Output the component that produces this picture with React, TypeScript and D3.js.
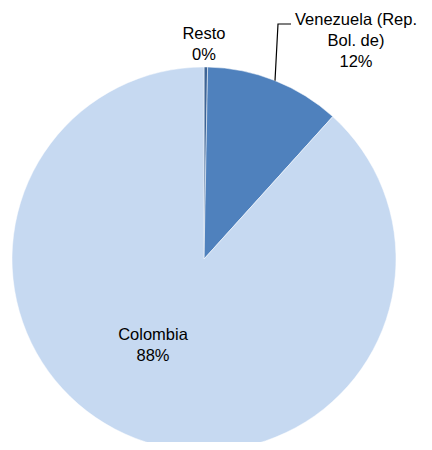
import React from "react";
import * as d3 from "d3";

const categories = ["Resto", "Venezuela (Rep. Bol. de)", "Colombia"];
const values = [0.3, 11.4, 88.3];
const percentLabels = ["0%", "12%", "88%"];
const colors = ["#3D6496", "#4F81BD", "#C6D9F1"];

const W = 432;
const H = 450;
const cx = 204;
const cy = 259;
const R = 192;
const FONT = "Arial, 'Liberation Sans', Helvetica, sans-serif";
const FS = 16.5;

export default function App() {
  const pie = d3
    .pie<number>()
    .sort(null)
    .value((d) => d)
    .startAngle(0)
    .endAngle(2 * Math.PI);
  const arcs = pie(values);
  const arc = d3.arc<d3.PieArcDatum<number>>().innerRadius(0).outerRadius(R);

  // label positions (pixels)
  const labelLines = [
    { x: 204, y: 39, lines: [categories[0], percentLabels[0]] },
    { x: 356, y: 25, lines: ["Venezuela (Rep.", "Bol. de)", percentLabels[1]] },
    { x: 153, y: 340, lines: [categories[2], percentLabels[2]] },
  ];

  // leader line for Venezuela from pie edge
  const lx = 275;
  const ly = cy - Math.sqrt(R * R - (lx - cx) * (lx - cx));
  const leader = d3.line()([
    [lx, ly],
    [278, 24],
    [291, 24],
  ]);

  return (
    <div style={{ margin: -8 }}>
      <svg width={W} height={H} style={{ display: "block", background: "#fff" }}>
        <g transform={`translate(${cx},${cy})`}>
          {arcs.map((a, i) => (
            <path key={i} d={arc(a) || ""} fill={colors[i]} stroke="#ffffff" strokeWidth={0.5} />
          ))}
        </g>
        <path d={leader || ""} fill="none" stroke="#000" strokeWidth={1.2} />
        {labelLines.map((l, i) => (
          <text key={i} x={l.x} y={l.y} textAnchor="middle" fontFamily={FONT} fontSize={FS} fill="#000">
            {l.lines.map((t, j) => (
              <tspan key={j} x={l.x} y={l.y + j * 21}>
                {t}
              </tspan>
            ))}
          </text>
        ))}
      </svg>
    </div>
  );
}
